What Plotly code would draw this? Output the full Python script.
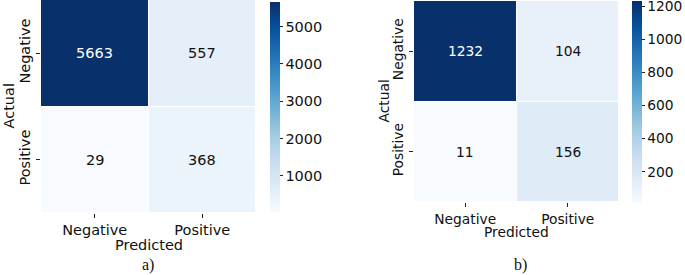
import plotly.graph_objects as go

labels = ["Negative", "Positive"]
cm_a = [[5663, 557], [29, 368]]
cm_b = [[1232, 104], [11, 156]]
panel_tags = ["a)", "b)"]

W, H = 685, 275
blues = [[0.0, "#f7fbff"], [0.125, "#deebf7"], [0.25, "#c6dbef"], [0.375, "#9ecae1"],
         [0.5, "#6baed6"], [0.625, "#4292c6"], [0.75, "#2171b5"], [0.875, "#08519c"],
         [1.0, "#08306b"]]
FONT = "DejaVu Sans"

def px_x(p):
    return p / W

def px_y(p):
    return 1 - p / H

fig = go.Figure()

panels = [
    dict(cm=cm_a, xa="x", ya="y", xd=(41, 256), yd=(0, 213), cbx=270, cby=(2, 212), dtick=1000, fs=14.5,
         ylab_x=9, xlab_y=245, tag_y=265, tag_x=148),
    dict(cm=cm_b, xa="x2", ya="y2", xd=(414, 619), yd=(1, 202), cbx=632, cby=(1, 203), dtick=200, fs=13.8,
         ylab_x=383, xlab_y=232, tag_y=265, tag_x=520),
]

annotations = []
for i, p in enumerate(panels):
    z = p["cm"]
    zmin = min(min(r) for r in z)
    zmax = max(max(r) for r in z)
    fig.add_trace(go.Heatmap(
        z=z, x=labels, y=labels, xaxis=p["xa"], yaxis=p["ya"],
        colorscale=blues, zmin=zmin, zmax=zmax, xgap=1, ygap=1,
        hoverinfo="z",
        colorbar=dict(
            x=px_x(p["cbx"]), xanchor="left", xpad=0,
            y=px_y(p["cby"][0]), yanchor="top", ypad=0,
            len=p["cby"][1] - p["cby"][0], lenmode="pixels",
            thickness=10, thicknessmode="pixels",
            outlinewidth=0, ticks="outside", ticklen=3, tickwidth=1, tickcolor="#222",
            tick0=0, dtick=p["dtick"], ticklabeloverflow="allow",
            tickfont=dict(family=FONT, size=p["fs"], color="#111"),
        ),
    ))
    for r, yl in enumerate(labels):
        for c, xl in enumerate(labels):
            v = z[r][c]
            frac = (v - zmin) / (zmax - zmin)
            annotations.append(dict(
                x=xl, y=yl, xref=p["xa"], yref=p["ya"], text=str(v), showarrow=False,
                xanchor="center", yanchor="middle",
                font=dict(family=FONT, size=p["fs"], color="white" if frac > 0.6 else "#111"),
            ))
    xcenter = (p["xd"][0] + p["xd"][1]) / 2
    ycenter = (p["yd"][0] + p["yd"][1]) / 2
    annotations.append(dict(x=px_x(p["ylab_x"]), y=px_y(ycenter), xref="paper", yref="paper",
                            text="Actual", textangle=-90, showarrow=False,
                            xanchor="center", yanchor="middle",
                            font=dict(family=FONT, size=p["fs"], color="#111")))
    annotations.append(dict(x=px_x(xcenter), y=px_y(p["xlab_y"]), xref="paper", yref="paper",
                            text="Predicted", showarrow=False,
                            xanchor="center", yanchor="middle",
                            font=dict(family=FONT, size=p["fs"], color="#111")))
    annotations.append(dict(x=px_x(p["tag_x"]), y=px_y(p["tag_y"]), xref="paper", yref="paper",
                            text=panel_tags[i], showarrow=False,
                            xanchor="center", yanchor="middle",
                            font=dict(family="Liberation Serif", size=16, color="#111")))

def axis_common(fs):
    return dict(showgrid=False, zeroline=False, showline=False, ticks="outside", ticklen=4,
                tickwidth=1, tickcolor="#222", tickfont=dict(family=FONT, size=fs, color="#111"),
                fixedrange=True, automargin=False)

p1, p2 = panels
fig.update_layout(
    width=W, height=H, margin=dict(l=0, r=0, t=0, b=0, autoexpand=False),
    paper_bgcolor="white", plot_bgcolor="white",
    xaxis=dict(domain=[px_x(p1["xd"][0]), px_x(p1["xd"][1])], anchor="y", **axis_common(p1["fs"])),
    yaxis=dict(domain=[px_y(p1["yd"][1]), px_y(p1["yd"][0])], anchor="x", autorange="reversed",
               tickangle=-90, **axis_common(p1["fs"])),
    xaxis2=dict(domain=[px_x(p2["xd"][0]), px_x(p2["xd"][1])], anchor="y2", **axis_common(p2["fs"])),
    yaxis2=dict(domain=[px_y(p2["yd"][1]), px_y(p2["yd"][0])], anchor="x2", autorange="reversed",
                tickangle=-90, **axis_common(p2["fs"])),
    annotations=annotations,
    showlegend=False,
)

fig.write_html("out.html", config={"displayModeBar": False},
               post_script="document.body.style.margin='0';document.body.style.overflow='hidden';")
